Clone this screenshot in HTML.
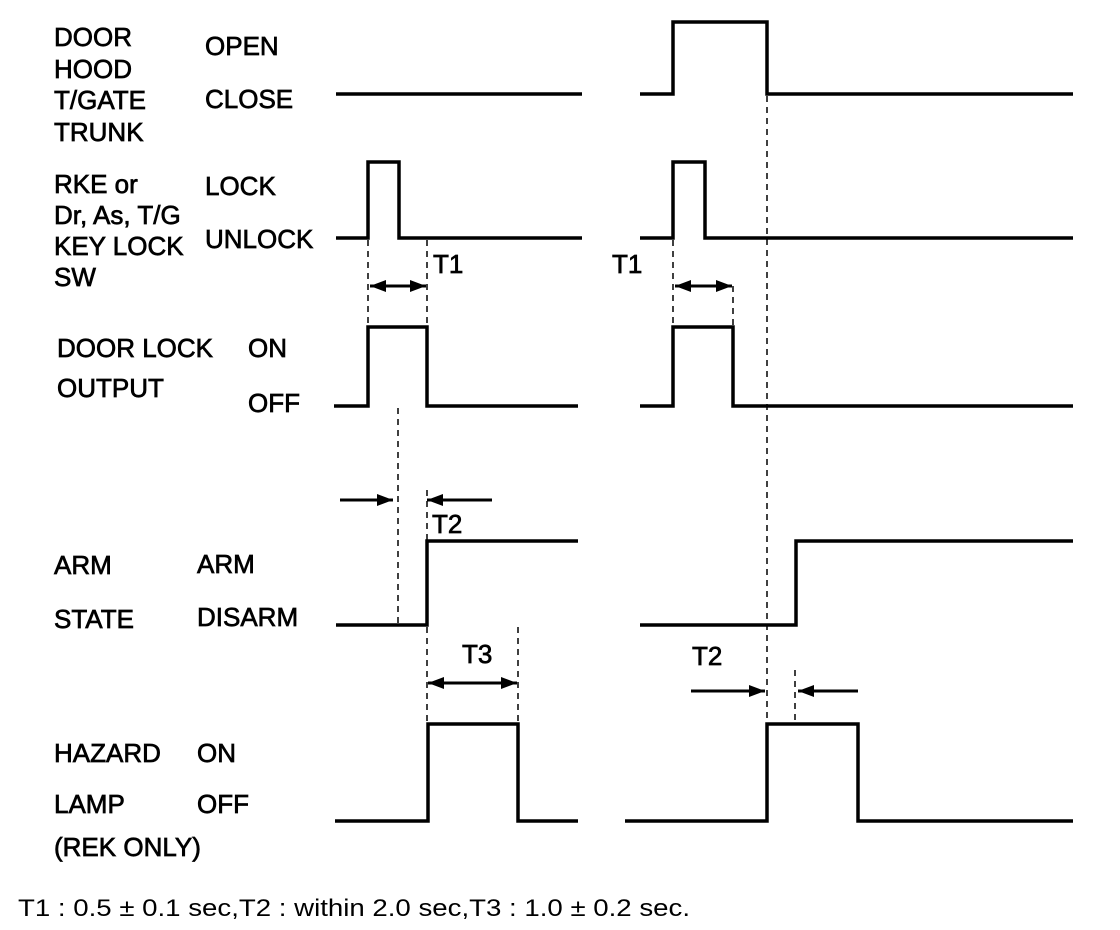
<!DOCTYPE html>
<html><head><meta charset="utf-8"><style>
html,body{margin:0;padding:0;background:#fff;}
svg{display:block;}
text{font-family:"Liberation Sans",Arial,sans-serif;font-size:26px;fill:#000;stroke:#000;stroke-width:0.7;}
.f{font-size:24px;stroke-width:0;}
.w{fill:none;stroke:#000;stroke-width:3.5;stroke-linejoin:miter;}
.d{fill:none;stroke:#000;stroke-width:1.5;stroke-dasharray:6,5;}
.a{fill:none;stroke:#000;stroke-width:3;}
</style></head><body>
<svg width="1120" height="930" viewBox="0 0 1120 930">
<defs>
<marker id="arb" viewBox="0 0 16 12" markerWidth="16" markerHeight="12" refX="16" refY="6" orient="auto" markerUnits="userSpaceOnUse"><path d="M0,0 L16,6 L0,12 z" fill="#000"/></marker>
<marker id="arbs" viewBox="0 0 16 12" markerWidth="16" markerHeight="12" refX="0" refY="6" orient="auto" markerUnits="userSpaceOnUse"><path d="M16,0 L0,6 L16,12 z" fill="#000"/></marker>
</defs>
<text x="54" y="46">DOOR</text>
<text x="54" y="78">HOOD</text>
<text x="54" y="109">T/GATE</text>
<text x="54" y="141">TRUNK</text>
<text x="205" y="55">OPEN</text>
<text x="205" y="108">CLOSE</text>
<text x="54" y="193">RKE or</text>
<text x="54" y="224">Dr, As, T/G</text>
<text x="54" y="255">KEY LOCK</text>
<text x="54" y="286">SW</text>
<text x="205" y="195">LOCK</text>
<text x="205" y="248">UNLOCK</text>
<text x="57" y="357">DOOR LOCK</text>
<text x="248" y="357">ON</text>
<text x="57" y="397">OUTPUT</text>
<text x="248" y="412">OFF</text>
<text x="54" y="574">ARM</text>
<text x="197" y="573">ARM</text>
<text x="54" y="628">STATE</text>
<text x="197" y="626">DISARM</text>
<text x="54" y="762">HAZARD</text>
<text x="197" y="762">ON</text>
<text x="54" y="813">LAMP</text>
<text x="197" y="813">OFF</text>
<text x="54" y="856">(REK ONLY)</text>
<text x="433" y="273">T1</text>
<text x="612" y="273">T1</text>
<text x="432" y="533">T2</text>
<text x="462" y="663">T3</text>
<text x="692" y="665">T2</text>
<text class="f" x="18" y="916" textLength="672" lengthAdjust="spacingAndGlyphs">T1 : 0.5 ± 0.1 sec,T2 : within 2.0 sec,T3 : 1.0 ± 0.2 sec.</text>
<polyline class="w" points="336,94 582,94"/>
<polyline class="w" points="640,94 673,94 673,22 767,22 767,94 1073,94"/>
<polyline class="w" points="336,238 368,238 368,162 399,162 399,238 582,238"/>
<polyline class="w" points="640,238 673,238 673,162 705,162 705,238 1073,238"/>
<polyline class="w" points="334,406 368,406 368,327 427,327 427,406 578,406"/>
<polyline class="w" points="640,406 673,406 673,327 733,327 733,406 1073,406"/>
<polyline class="w" points="336,625 427,625 427,541 578,541"/>
<polyline class="w" points="640,625 796,625 796,541 1073,541"/>
<polyline class="w" points="335,821 428,821 428,724 518,724 518,821 578,821"/>
<polyline class="w" points="625,821 767,821 767,724 858,724 858,821 1073,821"/>
<line class="d" x1="368" y1="240" x2="368" y2="326"/>
<line class="d" x1="427" y1="240" x2="427" y2="326"/>
<line class="d" x1="673" y1="240" x2="673" y2="326"/>
<line class="d" x1="733" y1="286" x2="733" y2="326"/>
<line class="d" x1="767" y1="96" x2="767" y2="722"/>
<line class="d" x1="398" y1="408" x2="398" y2="623"/>
<line class="d" x1="427" y1="490" x2="427" y2="540"/>
<line class="d" x1="427" y1="627" x2="427" y2="722"/>
<line class="d" x1="518" y1="627" x2="518" y2="722"/>
<line class="d" x1="795" y1="670" x2="795" y2="722"/>
<line class="a" x1="370" y1="286" x2="426" y2="286" marker-start="url(#arbs)" marker-end="url(#arb)"/>
<line class="a" x1="675" y1="286" x2="732" y2="286" marker-start="url(#arbs)" marker-end="url(#arb)"/>
<line class="a" x1="428" y1="683" x2="517" y2="683" marker-start="url(#arbs)" marker-end="url(#arb)"/>
<line class="a" x1="340" y1="500" x2="393" y2="500" marker-end="url(#arb)"/>
<line class="a" x1="492" y1="500" x2="427" y2="500" marker-end="url(#arb)"/>
<line class="a" x1="691" y1="691" x2="765" y2="691" marker-end="url(#arb)"/>
<line class="a" x1="858" y1="691" x2="798" y2="691" marker-end="url(#arb)"/>
</svg>
</body></html>
